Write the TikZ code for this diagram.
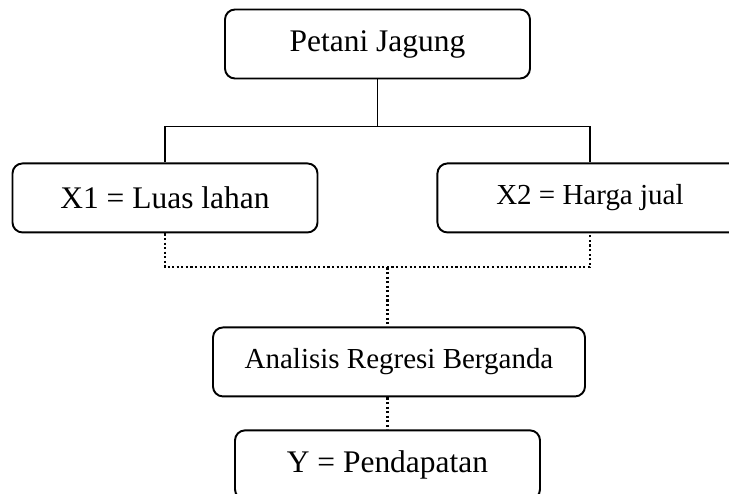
\documentclass[tikz,border=0pt]{standalone}
\usepackage{fontspec}
\setmainfont{Liberation Serif}
\usetikzlibrary{positioning}

\begin{document}
\begin{tikzpicture}[varbox/.style={draw, line width=1.1pt, rounded corners=0.2cm, minimum width=6.1cm, minimum height=1.38cm, align=center, font=\fontsize{17.9pt}{21pt}\selectfont},
        smalltext/.style={font=\fontsize{16.5pt}{19pt}\selectfont},
        link/.style={line width=0.85pt},
        dotlink/.style={line width=1.2pt, dash pattern=on 1.2pt off 1.4pt}]
        \useasboundingbox (-7.55, 0.88) rectangle (7.03, -8.98);
        \clip (-7.55, 0.88) rectangle (7.03, -8.98);

        \node[varbox] (petani) {Petani Jagung};
        \node[varbox] (luas) [below=1.66cm of petani, xshift=-4.25cm] {X1 = Luas lahan};
        \node[varbox, smalltext] (harga) [right=2.36cm of luas] {X2 = Harga jual};
        \node[varbox, smalltext, minimum width=7.44cm] (regresi) [below=4.94cm of petani, xshift=0.43cm] {Analisis Regresi Berganda};
        \node[varbox] (pendapatan) [below=0.64cm of regresi, xshift=-0.23cm] {Y = Pendapatan};

        % petani -> X1, X2
        \draw[link] (petani.south) -- ++(0,-0.94) coordinate (fork);
        \draw[link] (luas.north) |- (fork) -| (harga.north);

        % X1, X2 -> regresi -> Y
        \draw[dotlink] (luas.south) -- ++(0,-0.68) coordinate (join) -| (harga.south);
        \draw[dotlink] (join -| pendapatan.north) -- (regresi.north -| pendapatan.north);
        \draw[dotlink] (regresi.south -| pendapatan.north) -- (pendapatan.north);
    \end{tikzpicture}
\end{document}
